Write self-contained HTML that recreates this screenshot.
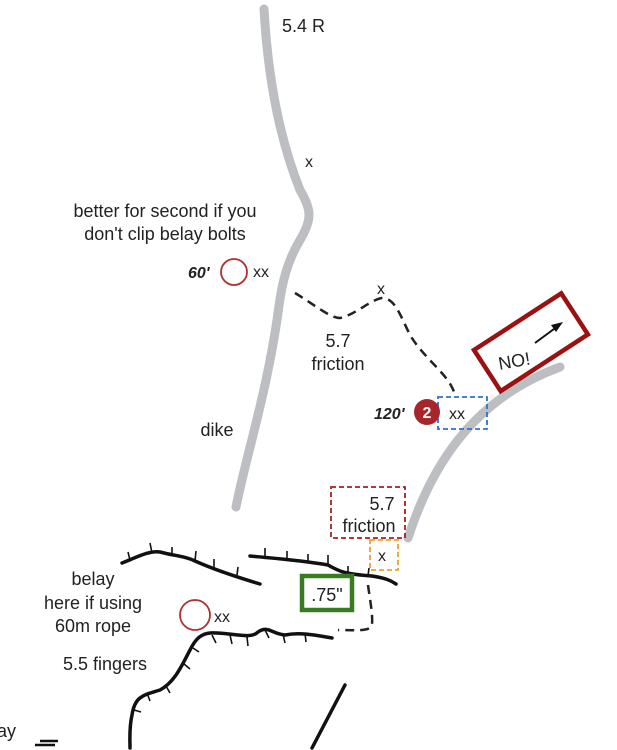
<!DOCTYPE html>
<html><head><meta charset="utf-8"><style>
html,body{margin:0;padding:0;background:#fff;}
svg{display:block;}
text{font-family:"Liberation Sans",sans-serif;fill:#222;}
</style></head><body>
<svg width="617" height="750" viewBox="0 0 617 750" xmlns="http://www.w3.org/2000/svg">
<g fill="none" stroke="#bdbec2" stroke-width="9" stroke-linecap="round">
<path d="M264 9 C268 80 280 140 300 190 C312 210 312 220 300 240 C282 270 280 300 277 320 C265 400 245 460 236 507"/>
<path d="M408 538 C430 470 470 400 560 367"/>
</g>
<g fill="none" stroke="#222" stroke-width="2.5" stroke-dasharray="9,6">
<path d="M295 293 C315 305 330 318 340 318 C355 315 370 300 382 298 C395 298 400 315 410 335 C425 360 450 375 455 395"/>
<path d="M368 585 C370 600 373 615 372 625 C370 632 355 630 338 630"/>
</g>
<g fill="none" stroke="#111" stroke-width="3.5" stroke-linecap="round">
<path d="M122 563 C135 558 150 550 160 552 C175 556 185 556 195 561 C215 570 240 578 260 584"/>
<path d="M250 556 C270 558 300 560 328 565 C340 572 345 574 372 576 C385 578 390 580 396 584"/>
<path d="M332 638 C315 635 300 632 285 635 C272 634 268 625 258 632 C250 640 230 632 210 633 C200 634 195 640 190 650 C182 665 175 682 160 690 C145 695 135 695 132 715 C129 728 130 740 130 748"/>
<path d="M345 685 L312 748"/>
</g>
<g stroke="#111" stroke-width="1.6">
<path d="M130 560 l-2 -8 M152 553 l-2 -10 M172 556 l0 -9 M195 561 l1 -10 M214 568 l0 -9 M237 575 l1 -8"/>
<path d="M265 557 l0 -9 M287 560 l0 -9 M308 563 l0 -9 M328 565 l0 -10 M348 574 l0 -8 M368 576 l1 -8"/>
<path d="M212 635 l4 8 M230 635 l2 9 M247 637 l1 9 M265 630 l4 8 M283 634 l2 9 M305 633 l1 9 M193 648 l6 4 M184 664 l6 5 M166 686 l4 7 M147 693 l3 8 M134 710 l7 2"/>
</g>
<rect x="331" y="487" width="74" height="51" fill="none" stroke="#a52020" stroke-width="1.8" stroke-dasharray="5,3"/>
<rect x="370" y="540" width="28" height="30" fill="none" stroke="#f0a030" stroke-width="1.8" stroke-dasharray="5,3"/>
<rect x="438" y="397" width="49" height="32" fill="none" stroke="#3070d0" stroke-width="1.8" stroke-dasharray="5,3"/>
<rect x="302" y="576" width="50" height="34" fill="none" stroke="#3a7a22" stroke-width="4.5"/>
<g transform="translate(474,350) rotate(-33)">
<rect x="0" y="0" width="104" height="49" fill="#fff" stroke="#9b1010" stroke-width="4.5"/>
</g>
<path d="M535 343 L558 326" stroke="#111" stroke-width="2"/>
<path d="M563 322 L551 325 L556 332 Z" fill="#111"/>
<circle cx="234" cy="272" r="13" fill="none" stroke="#b03030" stroke-width="1.8"/>
<circle cx="195" cy="615" r="15" fill="none" stroke="#b03030" stroke-width="1.8"/>
<circle cx="427" cy="412" r="13" fill="#a8262a"/>
<text x="427" y="418" font-size="16" font-weight="bold" text-anchor="middle" style="fill:#fff">2</text>
<g font-size="18">
<text x="282" y="32">5.4 R</text>
<text x="165" y="217" text-anchor="middle">better for second if you</text>
<text x="165" y="240" text-anchor="middle">don't clip belay bolts</text>
<text x="338" y="347" text-anchor="middle">5.7</text>
<text x="338" y="370" text-anchor="middle">friction</text>
<text x="217" y="436" text-anchor="middle">dike</text>
<text x="382" y="510" text-anchor="middle">5.7</text>
<text x="369" y="532" text-anchor="middle">friction</text>
<text x="93" y="585" text-anchor="middle">belay</text>
<text x="93" y="609" text-anchor="middle">here if using</text>
<text x="93" y="632" text-anchor="middle">60m rope</text>
<text x="63" y="670">5.5 fingers</text>
<text x="-3" y="737">ay</text>
<text x="327" y="601" text-anchor="middle">.75"</text>
<text x="498" y="367" transform="rotate(-10 515 360)">NO!</text>
</g>
<g font-size="16">
<text x="305" y="167">x</text>
<text x="377" y="294">x</text>
<text x="253" y="277">xx</text>
<text x="214" y="622">xx</text>
<text x="378" y="561">x</text>
<text x="449" y="419">xx</text>
</g>
<g font-size="16" font-style="italic" font-weight="bold">
<text x="188" y="278">60'</text>
<text x="374" y="419">120'</text>
</g>
<path d="M35 745 h20 M40 741 h18" stroke="#111" stroke-width="2.5"/>
</svg>
</body></html>
